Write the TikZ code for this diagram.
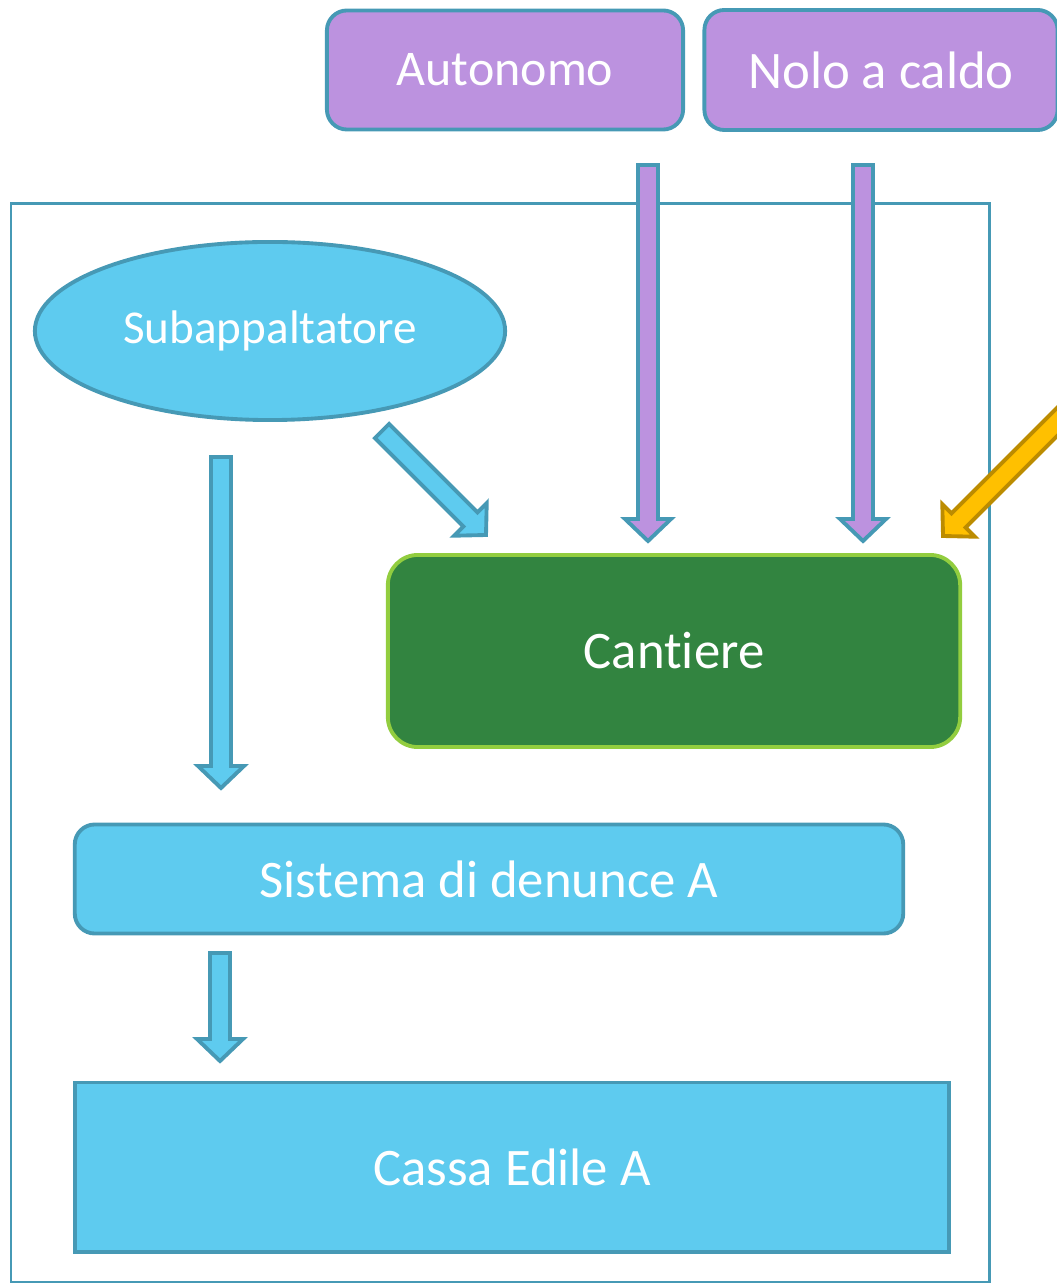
\documentclass[tikz,border=0pt]{standalone}
\usepackage{fontspec}
\setmainfont{Carlito}[Ligatures=NoCommon]
\usepackage{tikz}
\usetikzlibrary{shapes, calc, positioning}

\definecolor{celeste}{RGB}{94,203,239}
\definecolor{bordo}{RGB}{70,153,181}
\definecolor{lilla}{RGB}{188,146,223}
\definecolor{verde}{RGB}{50,132,64}
\definecolor{verdechiaro}{RGB}{146,205,63}
\definecolor{giallo}{RGB}{255,192,0}
\definecolor{ocra}{RGB}{188,140,0}

\tikzset{
  blocco/.style={draw=bordo, line width=1.1pt, text=white, inner sep=0pt,
    font=\fontsize{15}{18}\selectfont},
  tondo/.style={blocco, rounded corners=0.2cm},
  cornice/.style={draw=bordo, line width=0.85pt}
}

% freccia piena: da #1 a #2, riempimento #3, bordo #4
\newcommand{\frecciona}[4]{%
  \coordinate (hb) at ($(#2)!0.22cm!(#1)$);
  \filldraw[fill=#3, draw=#4, line width=1.1pt, line join=miter]
    ($(#1)!0.1cm!90:(#2)$) -- ($(hb)!0.1cm!-90:(#1)$) -- ($(hb)!0.23cm!-90:(#1)$)
    -- (#2) -- ($(hb)!0.23cm!90:(#1)$) -- ($(hb)!0.1cm!90:(#1)$)
    -- ($(#1)!0.1cm!-90:(#2)$) -- cycle;
}

\begin{document}
\begin{tikzpicture}[x=0.01cm, y=-0.01cm]
\useasboundingbox (0,0) rectangle (1056,1283);

\draw[cornice] (11,204) rectangle (989,1282);

% frecce
\coordinate (aut1) at (648,165);  \coordinate (aut2) at (648,541);
\coordinate (nolo1) at (863,165); \coordinate (nolo2) at (863,541);
\coordinate (sub1) at (382,431);  \coordinate (sub2) at (486,535);
\coordinate (sub3) at (221,457);  \coordinate (sub4) at (221,788);
\coordinate (sist1) at (220,953); \coordinate (sist2) at (220,1061);
\coordinate (ext1) at (1110,369); \coordinate (ext2) at (943,536);

\frecciona{aut1}{aut2}{lilla}{bordo}
\frecciona{nolo1}{nolo2}{lilla}{bordo}
\frecciona{sub1}{sub2}{celeste}{bordo}
\frecciona{sub3}{sub4}{celeste}{bordo}
\frecciona{sist1}{sist2}{celeste}{bordo}
\frecciona{ext1}{ext2}{giallo}{ocra}

% nodi
\node[tondo, fill=lilla, minimum width=3.56cm, minimum height=1.19cm,
  font=\fontsize{14.2}{17}\selectfont] (aut) at (505,70) {Autonomo};
\node[tondo, fill=lilla, minimum width=3.53cm, minimum height=1.2cm] (nolo) at (881,70) {Nolo a caldo};
\node[blocco, ellipse, fill=celeste, minimum width=4.7cm, minimum height=1.78cm,
  font=\fontsize{13.4}{16}\selectfont] (sub) at (270,331) {Subappaltatore};
\node[blocco, fill=verde, draw=verdechiaro, rounded corners=0.3cm,
  minimum width=5.72cm, minimum height=1.92cm] (cant) at (674,651) {Cantiere};
\node[tondo, fill=celeste, minimum width=8.28cm, minimum height=1.09cm] (sist) at (489,879) {Sistema di denunce A};
\node[blocco, fill=celeste, minimum width=8.74cm, minimum height=1.69cm] (cassa) at (512,1167) {Cassa Edile A};

\end{tikzpicture}
\end{document}
